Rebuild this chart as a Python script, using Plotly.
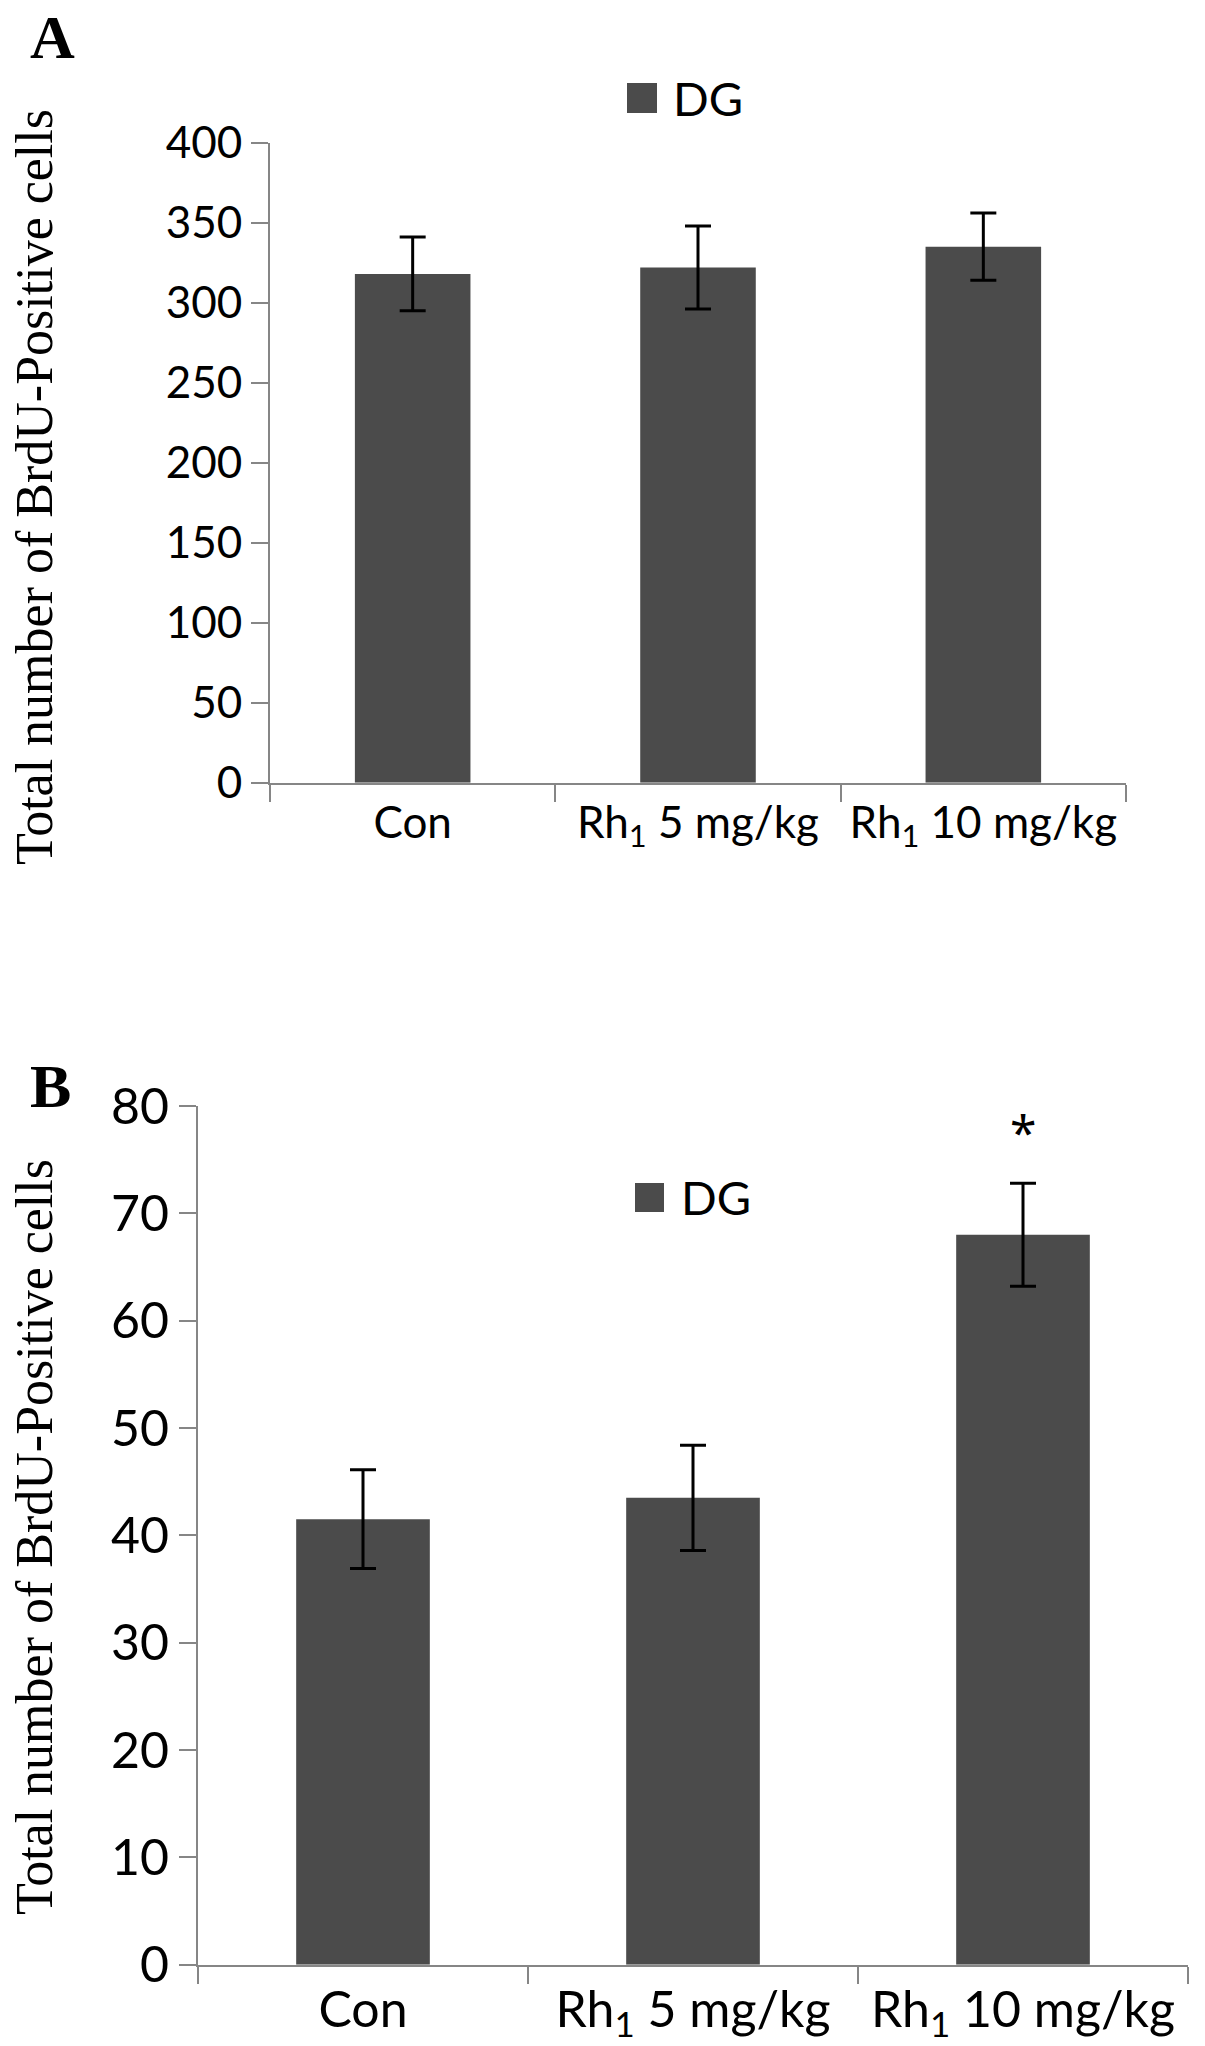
import plotly.graph_objects as go

# groups on the x axis
groups = ["Con", "Rh<sub>1</sub> 5 mg/kg", "Rh<sub>1</sub> 10 mg/kg"]

# panel A: BrdU-positive cells in DG (0-400 scale)
a_mean = [318, 322, 335]
a_err = [23, 26, 21]

# panel B: BrdU-positive cells in DG (0-80 scale)
b_mean = [41.5, 43.5, 68]
b_err = [4.6, 4.9, 4.8]
b_sig = ["", "", "*"]

series_name = "DG"
y_title = "Total number of BrdU-Positive cells"

W, H = 1205, 2046
bar_color = "#4b4b4b"
axis_color = "#868686"
sans = "Lato, Noto Sans, sans-serif"
tick_font = dict(family=sans, size=44, color="black")
serif = "Liberation Serif, Times New Roman, serif"


def px_x(v):
    return v / W


def px_y(v):
    return 1 - v / H


fig = go.Figure()

fig.add_trace(go.Bar(
    x=groups, y=a_mean, name=series_name,
    marker=dict(color=bar_color, line=dict(width=0)),
    error_y=dict(type="data", array=a_err, color="black", thickness=3, width=13),
    xaxis="x", yaxis="y", showlegend=False,
))
fig.add_trace(go.Bar(
    x=groups, y=b_mean, name=series_name,
    marker=dict(color=bar_color, line=dict(width=0)),
    error_y=dict(type="data", array=b_err, color="black", thickness=3, width=13),
    xaxis="x2", yaxis="y2", showlegend=False,
))

axis_common = dict(
    showline=True, linecolor=axis_color, linewidth=2,
    ticks="outside", tickcolor=axis_color, tickwidth=2, ticklen=17,
    showgrid=False, zeroline=False, automargin=False,
)

fig.update_layout(
    width=W, height=H,
    template="none",
    margin=dict(l=0, r=0, t=0, b=0),
    paper_bgcolor="white", plot_bgcolor="white",
    bargap=0.595,
    xaxis=dict(domain=[px_x(270), px_x(1126)], anchor="y",
               tickson="boundaries", tickangle=0, tickfont=tick_font, **axis_common),
    yaxis=dict(domain=[px_y(782.7), px_y(142.7)], anchor="x",
               range=[0, 400], dtick=50, tickfont=tick_font, **axis_common),
    xaxis2=dict(domain=[px_x(198), px_x(1188)], anchor="y2",
                tickson="boundaries", tickangle=0,
                tickfont=dict(tick_font, size=50), **axis_common),
    yaxis2=dict(domain=[px_y(1964.7), px_y(1106)], anchor="x2",
                range=[0, 80], dtick=10,
                tickfont=dict(tick_font, size=50), **axis_common),
)

annotations = []
# rotated y titles
for yc in (487, 1537):
    annotations.append(dict(
        x=px_x(34), y=px_y(yc), xref="paper", yref="paper",
        text=y_title, textangle=-90, showarrow=False,
        font=dict(family=serif, size=52, color="black"),
        xanchor="center", yanchor="middle",
    ))
# panel letters
for letter, (lx, ly) in (("A", (52, 37)), ("B", (50, 1086))):
    annotations.append(dict(
        x=px_x(lx), y=px_y(ly), xref="paper", yref="paper",
        text="<b>%s</b>" % letter, showarrow=False,
        font=dict(family=serif, size=62, color="black"),
        xanchor="center", yanchor="middle",
    ))
# legend labels
for lx, ly in ((671, 98), (679, 1197)):
    annotations.append(dict(
        x=px_x(lx), y=px_y(ly), xref="paper", yref="paper",
        text=series_name, showarrow=False,
        font=dict(family=sans, size=47, color="black"),
        xanchor="left", yanchor="middle",
    ))
# significance marks
for g, m, e, s in zip(groups, b_mean, b_err, b_sig):
    if s:
        annotations.append(dict(
            x=g, y=m + e + 4.8, xref="x2", yref="y2",
            text=s, showarrow=False,
            font=dict(family="Noto Sans, sans-serif", size=48, color="black"),
            xanchor="center", yanchor="middle",
        ))
fig.update_layout(annotations=annotations)

# legend swatches
for x0, y0, size in ((627, 83, 30), (635, 1183, 29)):
    fig.add_shape(type="rect", xref="paper", yref="paper",
                  x0=px_x(x0), x1=px_x(x0 + size),
                  y0=px_y(y0 + size), y1=px_y(y0),
                  fillcolor=bar_color, line=dict(width=0))

fig.write_html("out.html", config={"displayModeBar": False},
               post_script="document.body.style.margin = '0px';")
